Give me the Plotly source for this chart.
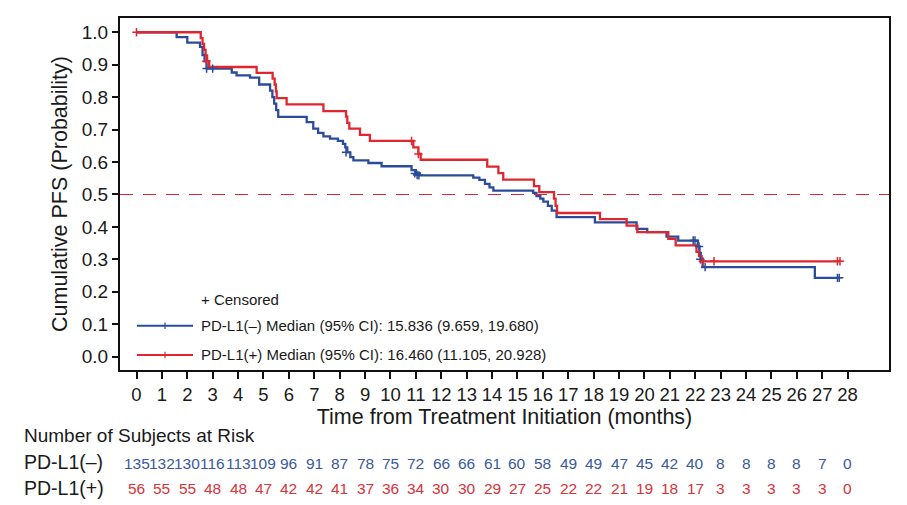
import plotly.graph_objects as go

# ---------------- data ----------------
neg_t = [0, 1.58, 2.0, 2.5, 2.6, 2.68, 2.76, 3.75, 3.94, 4.47, 4.83, 5.26, 5.35, 5.42, 5.5, 5.58,
         6.7, 6.96, 7.15, 7.36, 7.62, 7.93, 8.13, 8.22, 8.3, 8.42, 8.54, 9.13, 9.65, 10.83, 11.0,
         11.16, 13.26, 13.5, 13.72, 13.9, 14.05, 15.62, 15.75, 15.9, 16.02, 16.2, 16.35, 16.54,
         18.05, 19.69, 20.11, 20.87, 21.33, 22.1, 22.17, 22.22, 22.29, 26.71, 27.67]
neg_s = [1.0, 0.985, 0.968, 0.955, 0.93, 0.91, 0.888, 0.876, 0.867, 0.86, 0.839, 0.82, 0.80, 0.78,
         0.76, 0.739, 0.723, 0.703, 0.69, 0.679, 0.672, 0.665, 0.656, 0.645, 0.63, 0.615, 0.605,
         0.597, 0.587, 0.575, 0.565, 0.559, 0.552, 0.545, 0.533, 0.522, 0.512, 0.505, 0.495, 0.487,
         0.478, 0.465, 0.45, 0.43, 0.414, 0.394, 0.384, 0.370, 0.358, 0.34, 0.32, 0.30, 0.276,
         0.243, 0.243]

pos_t = [0, 2.53, 2.6, 2.66, 2.72, 2.78, 2.86, 4.73, 5.36, 5.44, 5.49, 5.52, 5.91, 7.36, 8.25,
         8.3, 8.38, 8.8, 9.19, 10.9, 11.1, 11.19, 13.81, 14.25, 14.44, 15.65, 15.86, 16.44, 16.5,
         16.56, 18.25, 19.3, 19.72, 20.94, 21.23, 22.05, 22.15, 22.25, 27.7]
pos_s = [1.0, 0.982, 0.964, 0.946, 0.929, 0.911, 0.893, 0.875, 0.857, 0.839, 0.818, 0.797, 0.778,
         0.757, 0.74, 0.721, 0.703, 0.684, 0.665, 0.645, 0.625, 0.607, 0.586, 0.566, 0.546, 0.526,
         0.507, 0.487, 0.465, 0.443, 0.424, 0.404, 0.384, 0.363, 0.343, 0.323, 0.31, 0.294, 0.294]

neg_cens_t = [2.76, 3.0, 8.25, 10.96, 11.05, 11.12, 21.92, 21.99, 22.15, 22.2, 22.39, 27.6, 27.67]
neg_cens_s = [0.888, 0.888, 0.63, 0.565, 0.56, 0.559, 0.358, 0.358, 0.34, 0.30, 0.276, 0.243, 0.243]
pos_cens_t = [0, 2.75, 10.83, 11.1, 22.3, 22.74, 27.6, 27.7]
pos_cens_s = [1.0, 0.911, 0.665, 0.625, 0.294, 0.294, 0.294, 0.294]

months = list(range(29))
risk_neg = [135, 132, 130, 116, 113, 109, 96, 91, 87, 78, 75, 72, 66, 66, 61, 60, 58, 49, 49,
            47, 45, 42, 40, 8, 8, 8, 8, 7, 0]
risk_pos = [56, 55, 55, 48, 48, 47, 42, 42, 41, 37, 36, 34, 30, 30, 29, 27, 25, 22, 22, 21, 19,
            18, 17, 3, 3, 3, 3, 3, 0]

legend_neg = "PD-L1(\u2013) Median (95% CI): 15.836 (9.659, 19.680)"
legend_pos = "PD-L1(+) Median (95% CI): 16.460 (11.105, 20.928)"
label_neg = "PD-L1(\u2013)"
label_pos = "PD-L1(+)"

# ---------------- style ----------------
BLUE = "#2b4c9b"
RED = "#e0262e"
BLUE_TXT = "#3a5a9e"
RED_TXT = "#d8323a"
FONT = "Liberation Sans, Arial, sans-serif"
TXT = "#1a1a1a"

fig = go.Figure()
fig.add_trace(go.Scatter(x=neg_t, y=neg_s, mode="lines",
                         line=dict(color=BLUE, width=2.3, shape="hv"), showlegend=False))
fig.add_trace(go.Scatter(x=pos_t, y=pos_s, mode="lines",
                         line=dict(color=RED, width=2.3, shape="hv"), showlegend=False))
fig.add_trace(go.Scatter(x=neg_cens_t, y=neg_cens_s, mode="markers",
                         marker=dict(symbol="cross-thin", size=6, line=dict(color=BLUE, width=1.5)),
                         showlegend=False))
fig.add_trace(go.Scatter(x=pos_cens_t, y=pos_cens_s, mode="markers",
                         marker=dict(symbol="cross-thin", size=6, line=dict(color=RED, width=1.5)),
                         showlegend=False))

W, H = 907, 505
L, R, T, B = 120, 18, 18, 135
pw, ph = W - L - R, H - T - B


def px(xp):
    return (xp - L) / pw


def py(yp):
    return (H - B - yp) / ph


shapes = [
    dict(type="line", xref="paper", yref="y", x0=0, x1=1, y0=0.5, y1=0.5,
         line=dict(color=RED, width=1.2, dash="13px,10px")),
    # legend samples
    dict(type="line", xref="paper", yref="paper", x0=px(137), x1=px(193), y0=py(325.7), y1=py(325.7),
         line=dict(color=BLUE, width=2)),
    dict(type="line", xref="paper", yref="paper", x0=px(165), x1=px(165), y0=py(322.5), y1=py(329),
         line=dict(color=BLUE, width=1.2)),
    dict(type="line", xref="paper", yref="paper", x0=px(137), x1=px(193), y0=py(355), y1=py(355),
         line=dict(color=RED, width=2)),
    dict(type="line", xref="paper", yref="paper", x0=px(165), x1=px(165), y0=py(351.8), y1=py(358.2),
         line=dict(color=RED, width=1.2)),
]

annotations = [
    dict(text="+ Censored", xref="paper", yref="paper", x=px(199), y=py(299), xanchor="left",
         yanchor="middle", showarrow=False, font=dict(family=FONT, size=15, color=TXT)),
    dict(text=legend_neg, xref="paper", yref="paper", x=px(199), y=py(325), xanchor="left",
         yanchor="middle", showarrow=False, font=dict(family=FONT, size=15, color=TXT)),
    dict(text=legend_pos, xref="paper", yref="paper", x=px(199), y=py(354), xanchor="left",
         yanchor="middle", showarrow=False, font=dict(family=FONT, size=15, color=TXT)),
    dict(text="Number of Subjects at Risk", xref="paper", yref="paper", x=px(22), y=py(435),
         xanchor="left", yanchor="middle", showarrow=False, font=dict(family=FONT, size=19, color=TXT)),
    dict(text=label_neg, xref="paper", yref="paper", x=px(22), y=py(462), xanchor="left",
         yanchor="middle", showarrow=False, font=dict(family=FONT, size=19.5, color=TXT)),
    dict(text=label_pos, xref="paper", yref="paper", x=px(22), y=py(488), xanchor="left",
         yanchor="middle", showarrow=False, font=dict(family=FONT, size=19.5, color=TXT)),
]
for m, v in zip(months, risk_neg):
    annotations.append(dict(text=str(v), xref="x", yref="paper", x=m, y=py(463), xanchor="center",
                            yanchor="middle", showarrow=False,
                            font=dict(family=FONT, size=15.5, color=BLUE_TXT)))
for m, v in zip(months, risk_pos):
    annotations.append(dict(text=str(v), xref="x", yref="paper", x=m, y=py(488), xanchor="center",
                            yanchor="middle", showarrow=False,
                            font=dict(family=FONT, size=15.5, color=RED_TXT)))

fig.update_layout(
    width=W, height=H,
    margin=dict(l=L, r=R, t=T, b=B, pad=0),
    paper_bgcolor="white", plot_bgcolor="white",
    font=dict(family=FONT, color=TXT),
    shapes=shapes, annotations=annotations,
    showlegend=False,
    xaxis=dict(range=[-0.65, 29.63], tickvals=months, ticktext=[str(m) for m in months],
               showgrid=False, zeroline=False, showline=True, mirror=True, linecolor="#111",
               linewidth=2, ticks="outside", ticklen=7, tickwidth=2, tickcolor="#111",
               tickfont=dict(family=FONT, size=18.5, color=TXT),
               title=dict(text="Time from Treatment Initiation (months)",
                          font=dict(family=FONT, size=21.5, color=TXT), standoff=2)),
    yaxis=dict(range=[-0.041, 1.044], tickvals=[i / 10 for i in range(11)],
               ticktext=["%.1f" % (i / 10) for i in range(11)],
               showgrid=False, zeroline=False, showline=True, mirror=True, linecolor="#111",
               linewidth=2, ticks="outside", ticklen=6, tickwidth=2, tickcolor="#111",
               tickfont=dict(family=FONT, size=19, color=TXT),
               title=dict(text="Cumulative PFS (Probability)",
                          font=dict(family=FONT, size=21.5, color=TXT), standoff=8)),
)

fig.write_html("out.html")
